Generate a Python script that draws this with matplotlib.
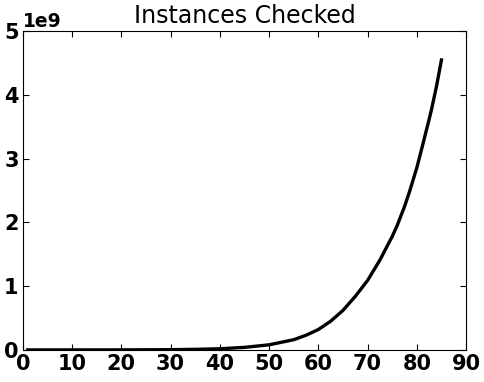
import matplotlib
matplotlib.use('Agg')
from matplotlib import pyplot as plt

# values (x = step, y = instances)
xs = [1, 5, 10, 15, 20, 25, 30, 35, 40, 45, 50, 52.5, 55, 57.5, 60, 62.5,
      65, 67.5, 70, 72.5, 75, 76, 77.5, 78.5, 80, 81, 82.5, 83, 84, 85]
ys = [0, 0, 0.0001, 0.0003, 0.0008, 0.002, 0.004, 0.009, 0.018, 0.04, 0.08,
      0.12, 0.16, 0.23, 0.32, 0.45, 0.62, 0.84, 1.09, 1.41, 1.78, 1.95,
      2.25, 2.48, 2.86, 3.16, 3.62, 3.78, 4.14, 4.55]
ys = [v * 1e9 for v in ys]

fig = plt.figure(figsize=(4.85, 3.82), dpi=100)
ax = fig.add_axes([0.047, 0.084, 0.914, 0.834])
ax.plot(xs, ys, color='black', lw=2.4)
ax.set_xlim(0, 90)
ax.set_ylim(0, 5e9)
ax.set_xticks(range(0, 91, 10))
ax.set_yticks([i * 1e9 for i in range(6)])
ax.tick_params(direction='in', top=True, right=True, length=4, width=0.8, pad=3)
for lab in ax.get_xticklabels() + ax.get_yticklabels():
    lab.set_fontsize(15)
    lab.set_fontweight('bold')
ax.yaxis.get_offset_text().set_fontsize(13.5)
ax.yaxis.get_offset_text().set_fontweight('bold')
ax.set_title('Instances Checked', fontsize=17)
fig.savefig('out.png', dpi=100)
